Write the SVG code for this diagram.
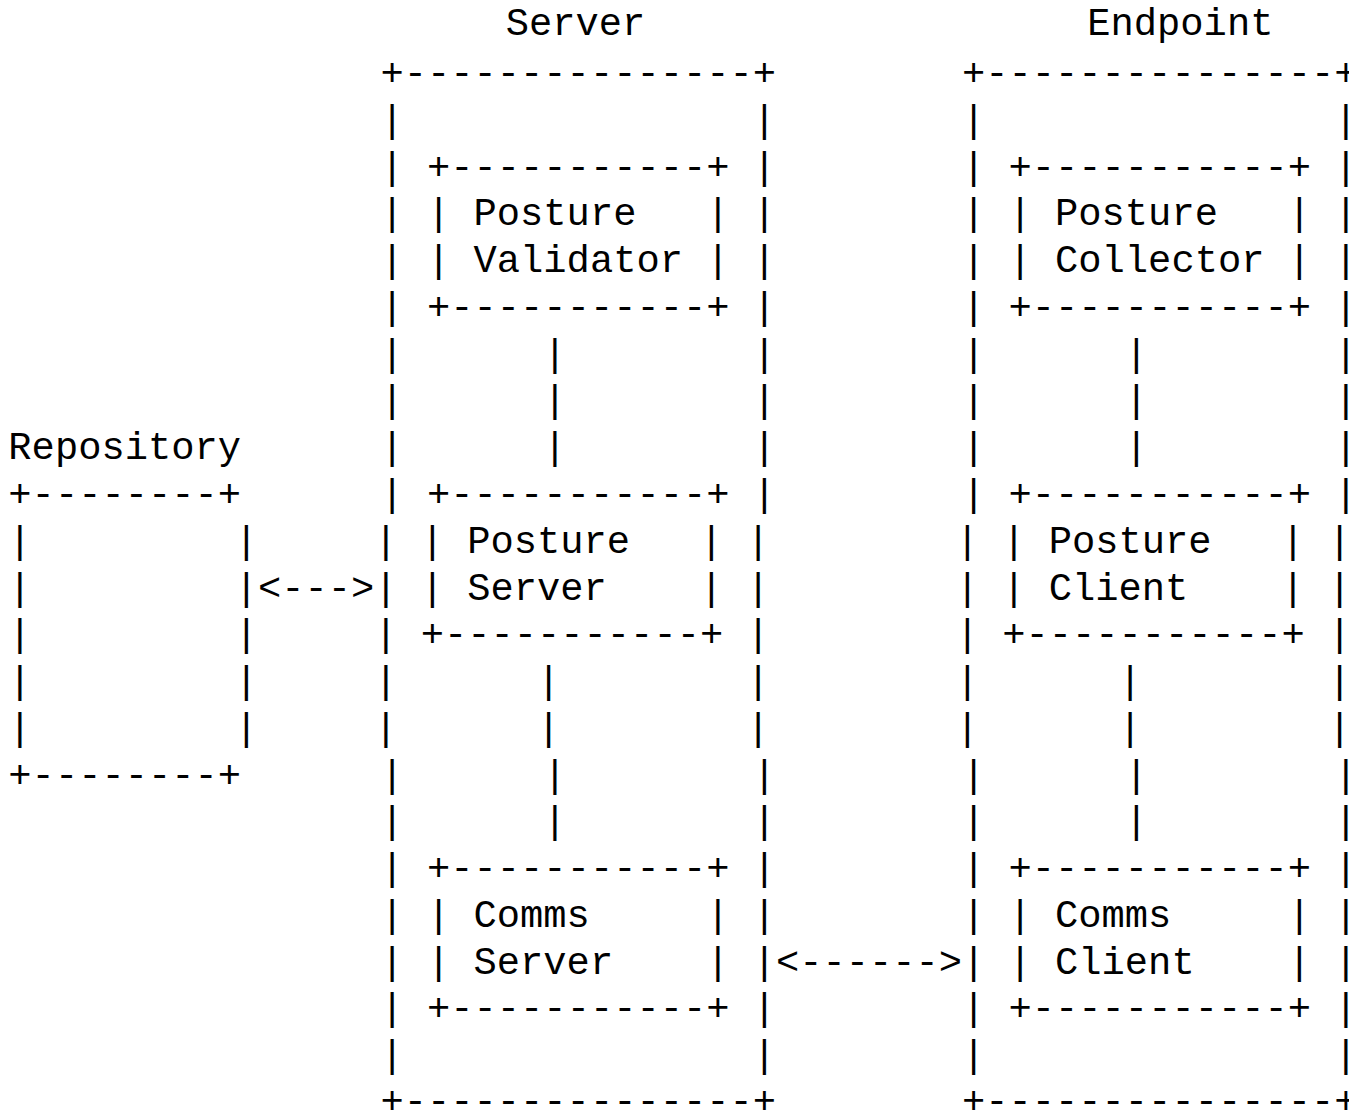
<svg xmlns="http://www.w3.org/2000/svg" width="1349" height="1113" viewBox="0 0 1349 1113">
<style>
  text { font-family: "Liberation Mono", "Courier New", monospace; font-size: 38.77px; fill: #000000; white-space: pre; }
</style>
<rect x="0" y="0" width="1349" height="1113" fill="#ffffff"/>

<g id="repository">
  <text x="8.37" y="459.2">Repository</text>
  <text x="8.37" y="505.9">+--------+</text>
  <text x="8.37" y="552.7">|</text><text x="234.67" y="552.7">|</text>
  <text x="8.37" y="599.5">|</text><text x="234.67" y="599.5">|</text>
  <text x="8.37" y="646.2">|</text><text x="234.67" y="646.2">|</text>
  <text x="8.37" y="693.0">|</text><text x="234.67" y="693.0">|</text>
  <text x="8.37" y="739.8">|</text><text x="234.67" y="739.8">|</text>
  <text x="8.37" y="786.6">+--------+</text>
</g>

<g id="server">
  <text x="505.8" y="35">Server</text>
  <text x="380.53" y="85.0">+---------------+</text>
  <text x="380.53" y="131.8">|</text><text x="752.69" y="131.8">|</text>
  <text x="380.53" y="178.5">|</text><text x="752.69" y="178.5">|</text>
  <text x="380.53" y="225.3">|</text><text x="752.69" y="225.3">|</text>
  <text x="380.53" y="272.1">|</text><text x="752.69" y="272.1">|</text>
  <text x="380.53" y="318.9">|</text><text x="752.69" y="318.9">|</text>
  <text x="380.53" y="365.6">|</text><text x="752.69" y="365.6">|</text>
  <text x="380.53" y="412.4">|</text><text x="752.69" y="412.4">|</text>
  <text x="380.53" y="459.2">|</text><text x="752.69" y="459.2">|</text>
  <text x="380.53" y="505.9">|</text><text x="752.69" y="505.9">|</text>
  <text x="374.23" y="552.7">|</text><text x="746.39" y="552.7">|</text>
  <text x="374.23" y="599.5">|</text><text x="746.39" y="599.5">|</text>
  <text x="374.23" y="646.2">|</text><text x="746.39" y="646.2">|</text>
  <text x="374.23" y="693.0">|</text><text x="746.39" y="693.0">|</text>
  <text x="374.23" y="739.8">|</text><text x="746.39" y="739.8">|</text>
  <text x="380.53" y="786.6">|</text><text x="752.69" y="786.6">|</text>
  <text x="380.53" y="833.3">|</text><text x="752.69" y="833.3">|</text>
  <text x="380.53" y="880.1">|</text><text x="752.69" y="880.1">|</text>
  <text x="380.53" y="926.9">|</text><text x="752.69" y="926.9">|</text>
  <text x="380.53" y="973.6">|</text><text x="752.69" y="973.6">|</text>
  <text x="380.53" y="1020.4">|</text><text x="752.69" y="1020.4">|</text>
  <text x="380.53" y="1067.2">|</text><text x="752.69" y="1067.2">|</text>
  <text x="380.53" y="1112.5">+---------------+</text>
</g>

<g id="posture-validator">
  <text x="427.05" y="178.5">+-----------+</text>
  <text x="427.05" y="225.3">|</text><text x="473.57" y="225.3">Posture</text><text x="706.17" y="225.3">|</text>
  <text x="427.05" y="272.1">|</text><text x="473.57" y="272.1">Validator</text><text x="706.17" y="272.1">|</text>
  <text x="427.05" y="318.9">+-----------+</text>
</g>

<g id="posture-server">
  <text x="427.05" y="505.9">+-----------+</text>
  <text x="420.75" y="552.7">|</text><text x="467.27" y="552.7">Posture</text><text x="699.87" y="552.7">|</text>
  <text x="420.75" y="599.5">|</text><text x="467.27" y="599.5">Server</text><text x="699.87" y="599.5">|</text>
  <text x="420.75" y="646.2">+-----------+</text>
</g>

<g id="comms-server">
  <text x="427.05" y="880.1">+-----------+</text>
  <text x="427.05" y="926.9">|</text><text x="473.57" y="926.9">Comms</text><text x="706.17" y="926.9">|</text>
  <text x="427.05" y="973.6">|</text><text x="473.57" y="973.6">Server</text><text x="706.17" y="973.6">|</text>
  <text x="427.05" y="1020.4">+-----------+</text>
</g>

<g id="endpoint">
  <text x="1087.3" y="35">Endpoint</text>
  <text x="962.03" y="85.0">+---------------+</text>
  <text x="962.03" y="131.8">|</text><text x="1334.19" y="131.8">|</text>
  <text x="962.03" y="178.5">|</text><text x="1334.19" y="178.5">|</text>
  <text x="962.03" y="225.3">|</text><text x="1334.19" y="225.3">|</text>
  <text x="962.03" y="272.1">|</text><text x="1334.19" y="272.1">|</text>
  <text x="962.03" y="318.9">|</text><text x="1334.19" y="318.9">|</text>
  <text x="962.03" y="365.6">|</text><text x="1334.19" y="365.6">|</text>
  <text x="962.03" y="412.4">|</text><text x="1334.19" y="412.4">|</text>
  <text x="962.03" y="459.2">|</text><text x="1334.19" y="459.2">|</text>
  <text x="962.03" y="505.9">|</text><text x="1334.19" y="505.9">|</text>
  <text x="955.73" y="552.7">|</text><text x="1327.89" y="552.7">|</text>
  <text x="955.73" y="599.5">|</text><text x="1327.89" y="599.5">|</text>
  <text x="955.73" y="646.2">|</text><text x="1327.89" y="646.2">|</text>
  <text x="955.73" y="693.0">|</text><text x="1327.89" y="693.0">|</text>
  <text x="955.73" y="739.8">|</text><text x="1327.89" y="739.8">|</text>
  <text x="962.03" y="786.6">|</text><text x="1334.19" y="786.6">|</text>
  <text x="962.03" y="833.3">|</text><text x="1334.19" y="833.3">|</text>
  <text x="962.03" y="880.1">|</text><text x="1334.19" y="880.1">|</text>
  <text x="962.03" y="926.9">|</text><text x="1334.19" y="926.9">|</text>
  <text x="962.03" y="973.6">|</text><text x="1334.19" y="973.6">|</text>
  <text x="962.03" y="1020.4">|</text><text x="1334.19" y="1020.4">|</text>
  <text x="962.03" y="1067.2">|</text><text x="1334.19" y="1067.2">|</text>
  <text x="962.03" y="1112.5">+---------------+</text>
</g>

<g id="posture-collector">
  <text x="1008.55" y="178.5">+-----------+</text>
  <text x="1008.55" y="225.3">|</text><text x="1055.07" y="225.3">Posture</text><text x="1287.67" y="225.3">|</text>
  <text x="1008.55" y="272.1">|</text><text x="1055.07" y="272.1">Collector</text><text x="1287.67" y="272.1">|</text>
  <text x="1008.55" y="318.9">+-----------+</text>
</g>

<g id="posture-client">
  <text x="1008.55" y="505.9">+-----------+</text>
  <text x="1002.25" y="552.7">|</text><text x="1048.77" y="552.7">Posture</text><text x="1281.37" y="552.7">|</text>
  <text x="1002.25" y="599.5">|</text><text x="1048.77" y="599.5">Client</text><text x="1281.37" y="599.5">|</text>
  <text x="1002.25" y="646.2">+-----------+</text>
</g>

<g id="comms-client">
  <text x="1008.55" y="880.1">+-----------+</text>
  <text x="1008.55" y="926.9">|</text><text x="1055.07" y="926.9">Comms</text><text x="1287.67" y="926.9">|</text>
  <text x="1008.55" y="973.6">|</text><text x="1055.07" y="973.6">Client</text><text x="1287.67" y="973.6">|</text>
  <text x="1008.55" y="1020.4">+-----------+</text>
</g>

<g id="connectors">
  <text x="543.35" y="365.6">|</text>
  <text x="543.35" y="412.4">|</text>
  <text x="543.35" y="459.2">|</text>
  <text x="537.05" y="693.0">|</text>
  <text x="537.05" y="739.8">|</text>
  <text x="543.35" y="786.6">|</text>
  <text x="543.35" y="833.3">|</text>
  <text x="1124.85" y="365.6">|</text>
  <text x="1124.85" y="412.4">|</text>
  <text x="1124.85" y="459.2">|</text>
  <text x="1118.55" y="693.0">|</text>
  <text x="1118.55" y="739.8">|</text>
  <text x="1124.85" y="786.6">|</text>
  <text x="1124.85" y="833.3">|</text>
  <text x="257.93" y="599.5">&lt;---&gt;</text>
  <text x="775.95" y="973.6">&lt;------&gt;</text>
</g>
</svg>
